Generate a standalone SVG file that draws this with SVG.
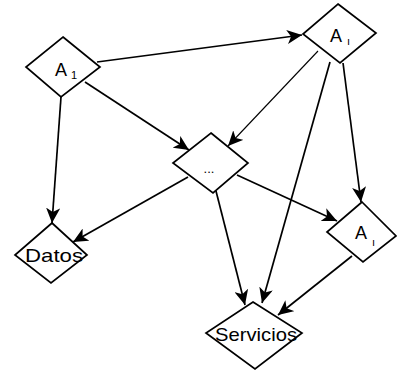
<svg xmlns="http://www.w3.org/2000/svg" width="397" height="376" viewBox="0 0 397 376">
  <style>
    .node { fill: #fff; stroke: #000; stroke-width: 1.7; stroke-linejoin: miter; }
    .edge { fill: none; stroke: #000; stroke-width: 1.7; marker-end: url(#arrow); }
    .thin { stroke-width: 1.1; }
    .lbl { font-family: "Liberation Sans", Arial, sans-serif; fill: #000; }
    .big { font-size: 18px; }
    .sub { font-size: 11px; }
    .dots { font-size: 13px; }
    .word { font-size: 19px; }
  </style>
  <defs>
    <marker id="arrow" markerUnits="userSpaceOnUse" markerWidth="16" markerHeight="14" refX="15" refY="7" orient="auto">
      <path d="M0,0 L15,7 L0,14 L4,7 z" fill="#000"/>
    </marker>
  </defs>

  <rect width="397" height="376" fill="#fff"/>

  <g id="connectors">
    <line class="edge" x1="97" y1="62" x2="302" y2="35"/>
    <line class="edge" x1="85" y1="82" x2="189" y2="150"/>
    <line class="edge" x1="61" y1="97" x2="52" y2="223"/>
    <line class="edge thin" x1="318" y1="51" x2="228" y2="146"/>
    <line class="edge" x1="330" y1="62" x2="262" y2="303"/>
    <line class="edge" x1="343" y1="63" x2="361" y2="202"/>
    <line class="edge" x1="237" y1="175" x2="337" y2="221"/>
    <line class="edge" x1="188" y1="177" x2="73" y2="242"/>
    <line class="edge" x1="216" y1="191" x2="245" y2="305"/>
    <line class="edge" x1="352" y1="256" x2="278" y2="315"/>
  </g>

  <g id="node-a1-left">
    <polygon class="node" points="63,37 100,67 61,97 26,67"/>
    <text class="lbl big" x="55" y="76">A</text>
    <text class="lbl sub" x="71" y="79">1</text>
  </g>

  <g id="node-a1-top">
    <polygon class="node" points="338,4 376,33 340,63 303,34"/>
    <text class="lbl big" x="330" y="42">A</text>
    <text class="lbl sub" x="347" y="45">ı</text>
  </g>

  <g id="node-dots">
    <polygon class="node" points="211,133 248,163 213,193 173,163"/>
    <text class="lbl dots" x="209" y="173" text-anchor="middle">...</text>
  </g>

  <g id="node-a1-right">
    <polygon class="node" points="362,202 396,236 363,262 327,232"/>
    <text class="lbl big" x="355" y="239">A</text>
    <text class="lbl sub" x="372" y="246">ı</text>
  </g>

  <g id="node-datos">
    <polygon class="node" points="52,223 87,255 51,283 15,255"/>
    <text class="lbl word" x="25" y="262" textLength="58" lengthAdjust="spacingAndGlyphs">Datos</text>
  </g>

  <g id="node-servicios">
    <polygon class="node" points="253,302 302,333 255,369 206,333"/>
    <text class="lbl word" x="215" y="341" textLength="82" lengthAdjust="spacingAndGlyphs">Servicios</text>
  </g>
</svg>
